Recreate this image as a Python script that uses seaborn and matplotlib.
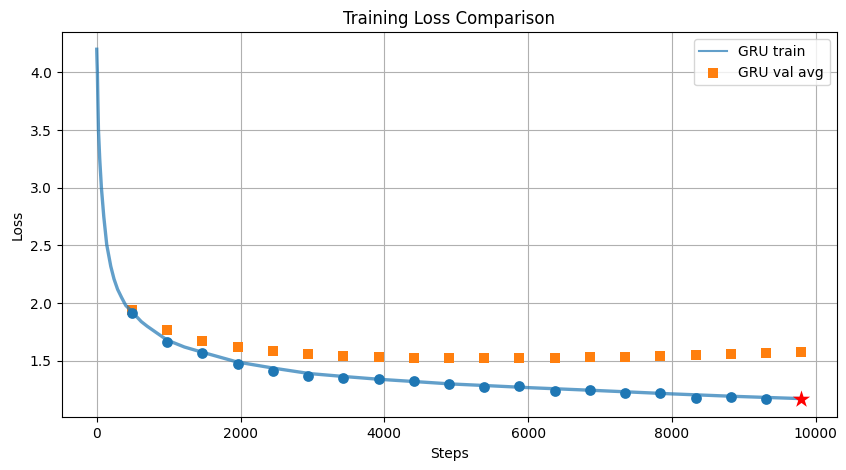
import pandas as pd
import matplotlib
matplotlib.use("Agg")
import matplotlib.pyplot as plt
import seaborn as sns

# train loss (step, loss)
train_steps = [0, 4, 9, 16, 24, 42, 65, 98, 139, 195, 240, 290, 345, 404, 493, 544,
               620, 702, 840, 980, 1220, 1468, 1955, 2470, 2960, 3450, 3940, 4440,
               4930, 5412, 6010, 6890, 8000, 8850, 9800]
train_loss = [4.20, 4.10, 4.00, 3.75, 3.50, 3.245, 3.00, 2.75, 2.507, 2.32, 2.21, 2.12,
              2.05, 1.98, 1.925, 1.89, 1.84, 1.80, 1.74, 1.68, 1.62, 1.575, 1.49,
              1.436, 1.39, 1.364, 1.34, 1.32, 1.30, 1.286, 1.268, 1.245, 1.214, 1.193,
              1.173]

# averaged points every 490 steps
avg_steps = [490 * i for i in range(1, 21)]
train_avg = [1.914, 1.665, 1.567, 1.471, 1.413, 1.367, 1.350, 1.341, 1.324, 1.298,
             1.272, 1.280, 1.237, 1.245, 1.222, 1.219, 1.176, 1.187, 1.173, 1.170]
val_avg = [1.937, 1.769, 1.671, 1.622, 1.587, 1.558, 1.543, 1.535, 1.523, 1.523,
           1.523, 1.523, 1.523, 1.532, 1.532, 1.543, 1.549, 1.558, 1.567, 1.575]

train_df = pd.DataFrame({"step": train_steps, "loss": train_loss})
avg_df = pd.DataFrame({"step": avg_steps, "train": train_avg, "val": val_avg})

fig, ax = plt.subplots(figsize=(8.46, 4.7), dpi=100)
fig.subplots_adjust(left=0.0727, right=0.9888, bottom=0.1121, top=0.9313)

sns.scatterplot(data=avg_df, x="step", y="val", marker="s", s=60, color="#ff7f0e",
                linewidth=0, label="GRU val avg", ax=ax, legend=False, zorder=2)
sns.lineplot(data=train_df, x="step", y="loss", color="#1f77b4", alpha=0.7,
             linewidth=2.4, label="GRU train", ax=ax, legend=False, zorder=3)
sns.scatterplot(data=avg_df.iloc[:-1], x="step", y="train", marker="o", s=60,
                color="#1f77b4", linewidth=0, ax=ax, legend=False, zorder=4)
sns.scatterplot(data=avg_df.iloc[-1:], x="step", y="train", marker="*", s=170,
                color="red", linewidth=0, ax=ax, legend=False, zorder=5)

ax.set_title("Training Loss Comparison", fontsize=12)
ax.set_xlabel("Steps")
ax.set_ylabel("Loss")
ax.grid(True, color="#b0b0b0", linewidth=0.8)
ax.set_axisbelow(True)
ax.set_ylim(1.011, 4.347)
ax.set_xlim(-490, 10290)

line_h = ax.lines[0]
val_h = ax.collections[0]
leg = ax.legend([line_h, val_h], ["GRU train", "GRU val avg"], loc="upper right")
for h in leg.get_lines():
    h.set_linewidth(1.5)

fig.savefig("out.png", dpi=100)
